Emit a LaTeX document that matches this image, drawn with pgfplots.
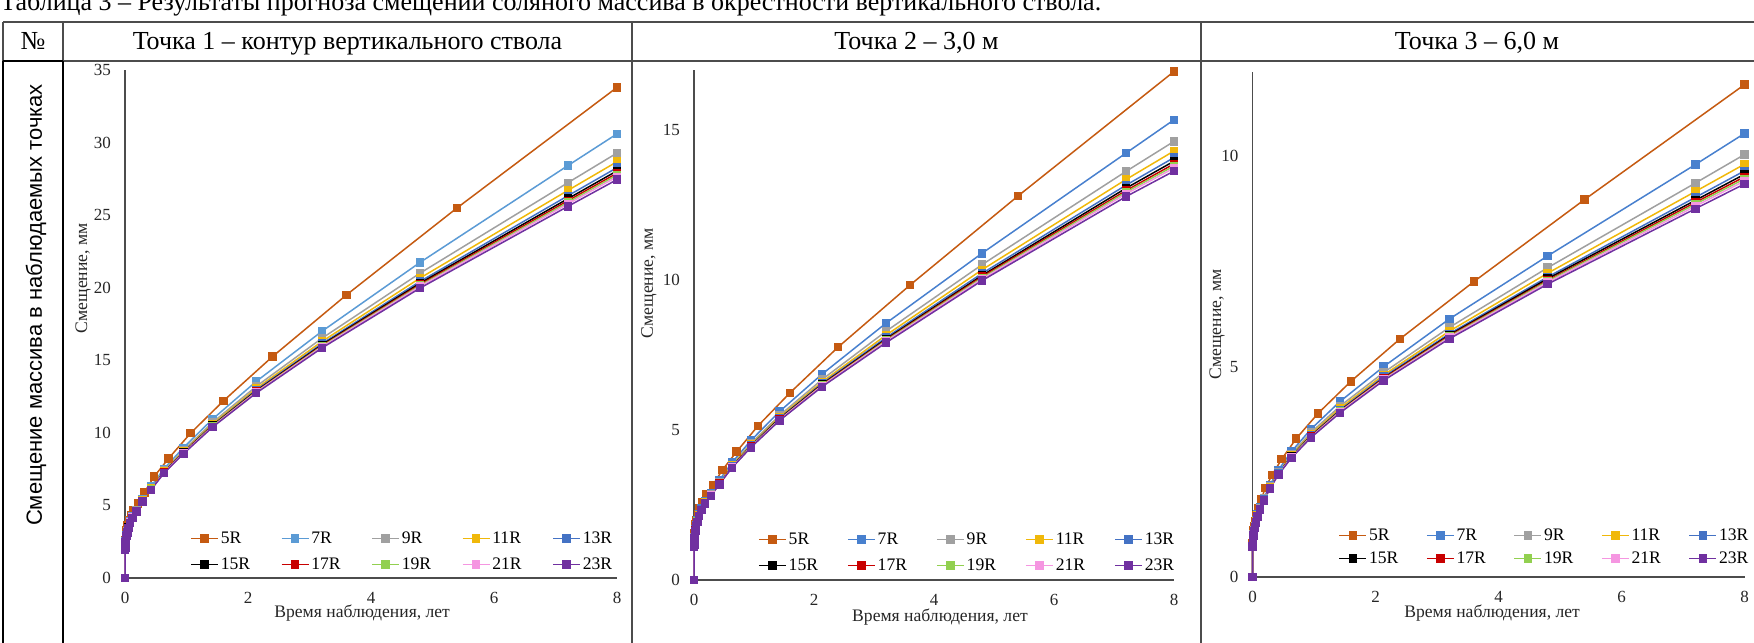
\documentclass[border=0pt]{standalone}
\usepackage{fontspec}
\setmainfont{Liberation Serif}
\newfontfamily\sansf{Liberation Sans}
\usepackage{pgfplots}
\pgfplotsset{compat=1.18}
\usepackage{pgfplotstable}

\definecolor{c5}{RGB}{197,90,17}
\definecolor{c7}{RGB}{91,155,213}
\definecolor{c7b}{RGB}{72,128,206}
\definecolor{c9}{RGB}{160,160,160}
\definecolor{c11}{RGB}{240,184,10}
\definecolor{c13}{RGB}{68,114,196}
\definecolor{c15}{RGB}{0,0,0}
\definecolor{c17}{RGB}{200,0,0}
\definecolor{c19}{RGB}{146,208,80}
\definecolor{c21}{RGB}{245,150,225}
\definecolor{c23}{RGB}{112,48,160}

\pgfplotstableread{
t p1 p2 p3
0 0 0 0
0.0037 2.20 1.26 0.80
0.0055 2.40 1.35 0.86
0.0082 2.60 1.45 0.93
0.0123 2.80 1.57 1.01
0.0185 3.05 1.70 1.10
0.0277 3.30 1.85 1.21
0.0416 3.60 2.00 1.33
0.0624 3.95 2.18 1.47
0.0937 4.30 2.38 1.64
0.1405 4.70 2.60 1.85
0.2107 5.15 2.85 2.12
0.316 5.90 3.17 2.42
0.474 6.99 3.67 2.80
0.711 8.25 4.28 3.29
1.067 9.98 5.14 3.89
1.6 12.20 6.24 4.65
2.4 15.26 7.76 5.66
3.6 19.50 9.83 7.02
5.4 25.50 12.80 8.97
8 33.80 16.95 11.70
}\tfive

\pgfplotstableread{
t r7 r9 r11 r13 r15 r17 r19 r21 r23
0 0 0 0 0 0 0 0 0 0
0.0032 1.99 1.97 1.97 1.96 1.96 1.96 1.95 1.95 1.95
0.0049 2.14 2.12 2.12 2.11 2.11 2.11 2.10 2.10 2.10
0.0073 2.30 2.28 2.27 2.26 2.26 2.26 2.26 2.25 2.25
0.011 2.50 2.48 2.47 2.46 2.46 2.46 2.46 2.45 2.45
0.0164 2.71 2.69 2.67 2.67 2.66 2.66 2.66 2.65 2.65
0.0247 2.96 2.94 2.92 2.92 2.91 2.91 2.91 2.90 2.90
0.037 3.22 3.19 3.18 3.17 3.16 3.16 3.16 3.15 3.15
0.0555 3.53 3.50 3.48 3.47 3.47 3.46 3.46 3.45 3.45
0.0832 3.89 3.85 3.84 3.82 3.82 3.81 3.81 3.81 3.80
0.125 4.25 4.21 4.19 4.18 4.17 4.16 4.16 4.16 4.15
0.187 4.70 4.65 4.62 4.60 4.60 4.59 4.58 4.58 4.57
0.281 5.43 5.36 5.33 5.30 5.29 5.28 5.28 5.27 5.26
0.421 6.29 6.20 6.16 6.13 6.11 6.10 6.09 6.08 6.07
0.632 7.52 7.39 7.34 7.30 7.28 7.26 7.25 7.24 7.22
0.948 8.97 8.79 8.71 8.66 8.63 8.61 8.59 8.58 8.55
1.422 10.94 10.71 10.61 10.53 10.50 10.47 10.45 10.42 10.39
2.133 13.54 13.20 13.05 12.95 12.89 12.85 12.82 12.79 12.74
3.2 16.99 16.51 16.29 16.14 16.06 16.00 15.96 15.91 15.84
4.8 21.75 21.01 20.67 20.44 20.32 20.23 20.16 20.09 19.98
7.2 28.41 27.23 26.70 26.33 26.13 25.99 25.88 25.77 25.60
8 30.60 29.28 28.68 28.27 28.05 27.89 27.77 27.64 27.45
}\pone

\pgfplotstableread{
t r7 r9 r11 r13 r15 r17 r19 r21 r23
0 0 0 0 0 0 0 0 0 0
0.0032 1.13 1.12 1.12 1.12 1.11 1.11 1.11 1.11 1.11
0.0049 1.21 1.20 1.20 1.20 1.19 1.19 1.19 1.19 1.19
0.0073 1.31 1.30 1.29 1.29 1.29 1.28 1.28 1.28 1.28
0.011 1.42 1.41 1.40 1.40 1.40 1.39 1.39 1.39 1.39
0.0164 1.53 1.52 1.51 1.51 1.51 1.50 1.50 1.50 1.50
0.0247 1.68 1.66 1.66 1.65 1.65 1.65 1.64 1.64 1.64
0.037 1.82 1.80 1.80 1.79 1.79 1.79 1.78 1.78 1.78
0.0555 1.99 1.97 1.96 1.95 1.95 1.95 1.95 1.94 1.94
0.0832 2.18 2.16 2.15 2.14 2.14 2.14 2.14 2.13 2.13
0.125 2.39 2.37 2.35 2.35 2.34 2.34 2.34 2.33 2.33
0.187 2.63 2.60 2.58 2.57 2.57 2.56 2.56 2.55 2.55
0.281 2.90 2.86 2.84 2.83 2.82 2.81 2.81 2.81 2.80
0.421 3.32 3.27 3.24 3.22 3.21 3.21 3.20 3.20 3.19
0.632 3.91 3.84 3.81 3.78 3.77 3.76 3.76 3.75 3.74
0.948 4.65 4.55 4.51 4.48 4.46 4.45 4.44 4.43 4.42
1.422 5.61 5.48 5.43 5.39 5.37 5.35 5.34 5.33 5.31
2.133 6.86 6.68 6.60 6.55 6.52 6.50 6.48 6.47 6.44
3.2 8.56 8.29 8.16 8.08 8.03 8.00 7.98 7.95 7.91
4.8 10.89 10.51 10.34 10.22 10.15 10.11 10.07 10.03 9.98
7.2 14.23 13.62 13.35 13.16 13.06 12.98 12.93 12.87 12.78
8 15.34 14.62 14.30 14.08 13.96 13.87 13.80 13.73 13.63
}\ptwo

\pgfplotstableread{
t r7 r9 r11 r13 r15 r17 r19 r21 r23
0 0 0 0 0 0 0 0 0 0
0.0032 0.74 0.73 0.73 0.73 0.72 0.72 0.72 0.72 0.72
0.0049 0.80 0.79 0.79 0.79 0.78 0.78 0.78 0.78 0.78
0.0073 0.86 0.85 0.85 0.85 0.84 0.84 0.84 0.84 0.84
0.011 0.93 0.92 0.92 0.92 0.91 0.91 0.91 0.91 0.91
0.0164 1.02 1.01 1.00 1.00 1.00 0.99 0.99 0.99 0.99
0.0247 1.11 1.10 1.09 1.09 1.09 1.08 1.08 1.08 1.08
0.037 1.21 1.20 1.19 1.19 1.19 1.18 1.18 1.18 1.18
0.0555 1.34 1.32 1.32 1.31 1.31 1.31 1.30 1.30 1.30
0.0832 1.48 1.46 1.46 1.45 1.45 1.45 1.44 1.44 1.44
0.125 1.65 1.63 1.62 1.61 1.61 1.61 1.61 1.60 1.60
0.187 1.88 1.86 1.84 1.84 1.83 1.83 1.83 1.82 1.82
0.281 2.18 2.15 2.13 2.12 2.12 2.11 2.11 2.10 2.10
0.421 2.54 2.49 2.47 2.46 2.45 2.45 2.44 2.44 2.43
0.632 2.98 2.92 2.89 2.87 2.86 2.85 2.85 2.84 2.83
0.948 3.51 3.43 3.39 3.36 3.35 3.34 3.33 3.32 3.31
1.422 4.17 4.06 4.01 3.97 3.95 3.94 3.93 3.92 3.90
2.133 5.00 4.86 4.80 4.76 4.73 4.72 4.70 4.69 4.67
3.2 6.13 5.93 5.84 5.78 5.75 5.73 5.71 5.69 5.66
4.8 7.63 7.35 7.22 7.13 7.09 7.05 7.03 7.00 6.96
7.2 9.80 9.36 9.16 9.02 8.95 8.90 8.86 8.81 8.75
8 10.54 10.04 9.81 9.65 9.57 9.51 9.46 9.41 9.34
}\pthree

\pgfplotsset{
  excel/.style={
    scale only axis,
    axis lines*=left,
    axis line style={line width=0.6pt, color=black!70},
    major tick length=0pt,
    xmin=0, xmax=8, ymin=0,
    xtick={0,2,4,6,8},
    clip=false,
    /pgf/number format/assume math mode=true,
    tick label style={font=\fontsize{8.5}{10}\selectfont, color=black!85},
    yticklabel style={xshift=-3.5pt},
    xticklabel style={yshift=-3.8pt},
    label style={font=\fontsize{8.8}{10.5}\selectfont, color=black!85},
    xlabel={Время наблюдения, лет},
    ylabel={Смещение, мм},
    every axis plot/.append style={line width=0.75pt, mark=square*, mark size=1.75pt, mark options={solid}},
    legend columns=5,
    legend cell align=left,
    legend style={draw=none, fill=none, inner sep=0pt, anchor=south west,
      font=\fontsize{8.8}{10.5}\selectfont, column sep=0pt, row sep=5pt,
      nodes={inner xsep=1pt, inner ysep=0pt, text height=6.5pt, text depth=1.5pt, align=left}},
    legend image code/.code={\draw[mark repeat=2,mark phase=2,##1] plot coordinates {(0pt,0pt) (6.75pt,0pt) (13.5pt,0pt)};},
  }
}

\begin{document}
\begin{tikzpicture}
\useasboundingbox (0,0) rectangle (877pt,321pt);

\begin{scope}[x=0.5pt,y=-0.5pt,yshift=321pt]
  % caption (partly cut off at top, as in the source)
  \node[anchor=base west, inner sep=0pt, font=\fontsize{13}{15.5}\selectfont] at (0,11) {Таблица 3 – Результаты прогноза смещений соляного массива в окрестности вертикального ствола.};
  % thin lines
  \draw[line width=0.65pt, color=black!70] (3,22) -- (1754,22);
  \draw[line width=0.65pt, color=black!70] (63,61) -- (1754,61);
  \draw[line width=0.65pt, color=black!70] (3,22) -- (3,61);
  \draw[line width=0.65pt, color=black!70] (63,22) -- (63,61);
  \draw[line width=0.65pt, color=black!70] (632,22) -- (632,650);
  \draw[line width=0.65pt, color=black!70] (1201,22) -- (1201,650);
  % thick lines of the first body cell
  \draw[line width=1.3pt, color=black] (3,61) -- (3,650);
  \draw[line width=1.3pt, color=black] (63,61) -- (63,650);
  \draw[line width=1.3pt, color=black] (3,61) -- (63,61);
  % header texts
  \node[anchor=base, font=\fontsize{13}{15.5}\selectfont] at (33,50) {№};
  \node[anchor=base, font=\fontsize{13}{15.5}\selectfont] at (347.5,50) {Точка 1 – контур вертикального ствола};
  \node[anchor=base, font=\fontsize{13}{15.5}\selectfont] at (916.5,50) {Точка 2 – 3,0 м};
  \node[anchor=base, font=\fontsize{13}{15.5}\selectfont] at (1477,50) {Точка 3 – 6,0 м};
  \node[rotate=90, font=\sansf\fontsize{11}{13.2}\selectfont] at (36,305) {Смещение массива в наблюдаемых точках};
\end{scope}

% ---------- panel 1 ----------
\begin{axis}[excel, at={(62.5pt,32pt)}, anchor=south west,
  width=246pt, height=254pt, ymax=35, ytick={0,5,...,35},
  xlabel style={at={(axis description cs:0.482,-0.069)}, anchor=center},
  ylabel style={at={(axis description cs:-0.085,0.59)}, anchor=center},
  legend style={at={(0.132,0.01)}, nodes={text width=29pt}}]
\addplot[c5] table[x=t,y=p1] {\tfive};
\addplot[c7] table[x=t,y=r7] {\pone};
\addplot[c9] table[x=t,y=r9] {\pone};
\addplot[c11] table[x=t,y=r11] {\pone};
\addplot[c13] table[x=t,y=r13] {\pone};
\addplot[c15] table[x=t,y=r15] {\pone};
\addplot[c17] table[x=t,y=r17] {\pone};
\addplot[c19] table[x=t,y=r19] {\pone};
\addplot[c21] table[x=t,y=r21] {\pone};
\addplot[c23] table[x=t,y=r23] {\pone};
\legend{5R,7R,9R,11R,13R,15R,17R,19R,21R,23R}
\end{axis}

% ---------- panel 2 ----------
\begin{axis}[excel, at={(347pt,31pt)}, anchor=south west,
  width=240pt, height=255pt, ymax=17, ytick={0,5,10,15},
  xlabel style={at={(axis description cs:0.5125,-0.0725)}, anchor=center},
  ylabel style={at={(axis description cs:-0.094,0.582)}, anchor=center},
  legend style={at={(0.133,0.012)}, nodes={text width=28.25pt}}]
\addplot[c5] table[x=t,y=p2] {\tfive};
\addplot[c7b] table[x=t,y=r7] {\ptwo};
\addplot[c9] table[x=t,y=r9] {\ptwo};
\addplot[c11] table[x=t,y=r11] {\ptwo};
\addplot[c13] table[x=t,y=r13] {\ptwo};
\addplot[c15] table[x=t,y=r15] {\ptwo};
\addplot[c17] table[x=t,y=r17] {\ptwo};
\addplot[c19] table[x=t,y=r19] {\ptwo};
\addplot[c21] table[x=t,y=r21] {\ptwo};
\addplot[c23] table[x=t,y=r23] {\ptwo};
\legend{5R,7R,9R,11R,13R,15R,17R,19R,21R,23R}
\end{axis}

% ---------- panel 3 ----------
\begin{axis}[excel, at={(626.25pt,32.5pt)}, anchor=south west,
  width=246pt, height=252.5pt, ymax=12, ytick={0,5,10},
  xlabel style={at={(axis description cs:0.487,-0.071)}, anchor=center},
  ylabel style={at={(axis description cs:-0.072,0.50)}, anchor=center},
  legend style={at={(0.174,0.02)}, row sep=3.5pt, nodes={text width=27.5pt}}]
\addplot[c5] table[x=t,y=p3] {\tfive};
\addplot[c7b] table[x=t,y=r7] {\pthree};
\addplot[c9] table[x=t,y=r9] {\pthree};
\addplot[c11] table[x=t,y=r11] {\pthree};
\addplot[c13] table[x=t,y=r13] {\pthree};
\addplot[c15] table[x=t,y=r15] {\pthree};
\addplot[c17] table[x=t,y=r17] {\pthree};
\addplot[c19] table[x=t,y=r19] {\pthree};
\addplot[c21] table[x=t,y=r21] {\pthree};
\addplot[c23] table[x=t,y=r23] {\pthree};
\legend{5R,7R,9R,11R,13R,15R,17R,19R,21R,23R}
\end{axis}
\end{tikzpicture}
\end{document}
